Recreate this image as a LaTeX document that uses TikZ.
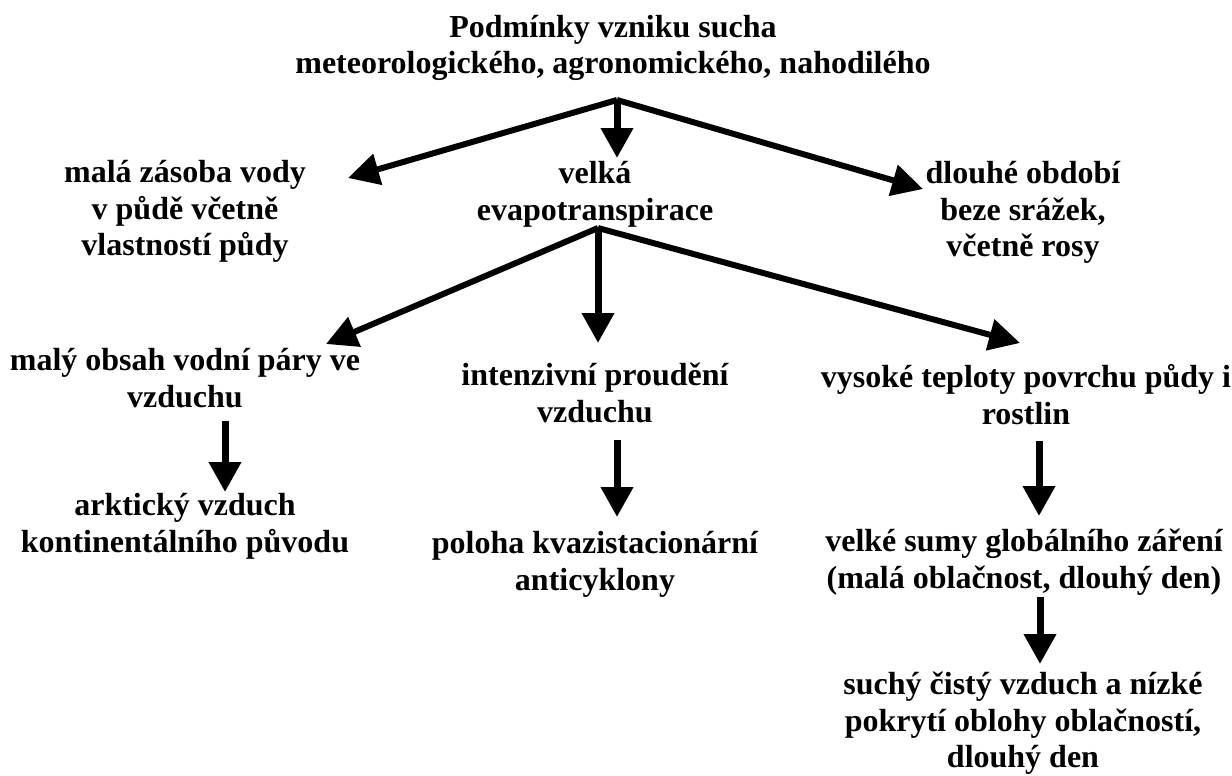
\documentclass[tikz,border=0pt]{standalone}
\usepackage{fontspec}
\setmainfont{Liberation Serif}
\usetikzlibrary{arrows.meta}
\newcommand\tstrut{\rule{0pt}{26pt}}
\begin{document}
\begin{tikzpicture}[x=1pt,y=-1pt,
  txt/.style={font=\fontsize{32}{36.8}\selectfont\bfseries, inner sep=0pt, align=center, anchor=north},
  arr/.style={line width=6pt, -{Triangle[length=31pt,width=31pt]}},
  varr/.style={line width=7pt, -{Triangle[length=30pt,width=31pt]}}]
\useasboundingbox (0,0) rectangle (1232,776);
\node[txt] (title) at (613,11) {\tstrut Podmínky vzniku sucha\\meteorologického, agronomického, nahodilého};
\node[txt] (n1) at (185,156) {\tstrut malá zásoba vody\\v půdě včetně\\vlastností půdy};
\node[txt] (n2) at (595,157) {\tstrut velká\\evapotranspirace};
\node[txt] (n3) at (1023,157) {\tstrut dlouhé období\\beze srážek,\\včetně rosy};
\node[txt] (n4) at (185,344) {\tstrut malý obsah vodní páry ve\\vzduchu};
\node[txt] (n5) at (595,359) {\tstrut intenzivní proudění\\vzduchu};
\node[txt] (n6) at (1026,361) {\tstrut vysoké teploty povrchu půdy i\\rostlin};
\node[txt] (n7) at (185,489) {\tstrut arktický vzduch\\kontinentálního původu};
\node[txt] (n8) at (595,527) {\tstrut poloha kvazistacionární\\anticyklony};
\node[txt] (n9) at (1024,525) {\tstrut velké sumy globálního záření\\(malá oblačnost, dlouhý den)};
\node[txt] (n10) at (1023,668) {\tstrut suchý čistý vzduch a nízké\\pokrytí oblohy oblačností,\\dlouhý den};

\coordinate (r1) at (617,100);
\coordinate (t1) at (348,178);
\coordinate (t2) at (617,158);
\coordinate (t3) at (923,189);
\coordinate (r2) at (598,228);
\coordinate (t4) at (326,344);
\coordinate (t5) at (598,343);
\coordinate (t6) at (1020,343);
\coordinate (s7) at (225,421);
\coordinate (t7) at (225,492);
\coordinate (s8) at (617,440);
\coordinate (t8) at (617,517);
\coordinate (s9) at (1039,441);
\coordinate (t9) at (1039,516);
\coordinate (s10) at (1040,597);
\coordinate (t10) at (1040,664);

\draw[arr] (r1) -- (t1);
\draw[varr] (r1) -- (t2);
\draw[arr] (r1) -- (t3);
\draw[arr] (r2) -- (t4);
\draw[varr] (r2) -- (t5);
\draw[arr] (r2) -- (t6);
\draw[varr] (s7) -- (t7);
\draw[varr] (s8) -- (t8);
\draw[varr] (s9) -- (t9);
\draw[varr] (s10) -- (t10);
\end{tikzpicture}
\end{document}
